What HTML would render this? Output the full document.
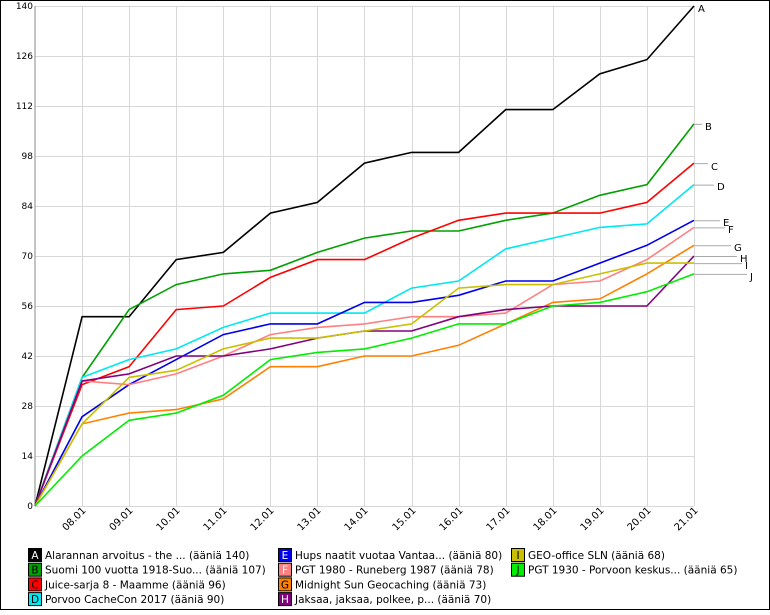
<!DOCTYPE html><html><head><style>body{margin:0;background:#fff}</style></head><body>
<svg width="770" height="610" xmlns="http://www.w3.org/2000/svg" font-family="DejaVu Sans, Liberation Sans, sans-serif">
<rect x="0.5" y="0.5" width="769" height="609" fill="#fff" stroke="#000"/>
<g id="grid" stroke="#d8d8d8" stroke-width="1"></g>
<g id="ylab" font-size="9" text-anchor="end"></g>
<g id="xlab" font-size="10"></g>
<g id="series" fill="none" stroke-width="1.6"></g>
<g id="tags" font-size="10"></g>
<g id="leg" font-size="10.5"></g>
<script>
var ns="http://www.w3.org/2000/svg";
function el(p,t,a,txt){var e=document.createElementNS(ns,t);for(var k in a)e.setAttribute(k,a[k]);if(txt!=null)e.textContent=txt;document.getElementById(p).appendChild(e);return e;}
function X(i){return 35+47.07*i}function Y(v){return 506-v*500/140}
for(var v=0;v<=140;v+=14){el("grid","line",{x1:35,x2:694,y1:Y(v)+.5,y2:Y(v)+.5});el("ylab","text",{x:33,y:Y(v)+3},v);}
var d=["08","09","10","11","12","13","14","15","16","17","18","19","20","21"];
for(var i=1;i<=14;i++){var x=Math.round(X(i))+.5;el("grid","line",{x1:x,x2:x,y1:6,y2:506});el("xlab","text",{x:0,y:0,"text-anchor":"end",transform:"translate("+(x+4)+",511) rotate(-45)"},d[i-1]+".01");}
el("grid","line",{x1:35,x2:35,y1:6,y2:506,stroke:"#888"});
var S=[
["A","#000000",[0,53,53,69,71,82,85,96,99,99,111,111,121,125,140],"Alarannan arvoitus - the ... (ääniä 140)","#fff"],
["B","#00a000",[0,36,55,62,65,66,71,75,77,77,80,82,87,90,107],"Suomi 100 vuotta 1918-Suo... (ääniä 107)","#000"],
["C","#ff0000",[0,34,39,55,56,64,69,69,75,80,82,82,82,85,96],"Juice-sarja 8 - Maamme (ääniä 96)","#000"],
["D","#00e8f0",[0,36,41,44,50,54,54,54,61,63,72,75,78,79,90],"Porvoo CacheCon 2017  (ääniä 90)","#000"],
["E","#0000ee",[0,25,34,41,48,51,51,57,57,59,63,63,68,73,80],"Hups naatit vuotaa Vantaa... (ääniä 80)","#fff"],
["F","#ff8080",[0,35,34,37,42,48,50,51,53,53,54,62,63,69,78],"PGT 1980 - Runeberg 1987 (ääniä 78)","#fff"],
["G","#ff8000",[0,23,26,27,30,39,39,42,42,45,51,57,58,65,73],"Midnight Sun Geocaching (ääniä 73)","#000"],
["H","#800080",[0,35,37,42,42,44,47,49,49,53,55,56,56,56,70],"Jaksaa, jaksaa, polkee, p... (ääniä 70)","#fff"],
["I","#c8c000",[0,23,36,38,44,47,47,49,51,61,62,62,65,68,68],"GEO-office SLN (ääniä 68)","#000"],
["J","#00ee00",[0,14,24,26,31,41,43,44,47,51,51,56,57,60,65],"PGT 1930 - Porvoon keskus... (ääniä 65)","#000"]];
var tg={A:[698,8],B:[705,126],C:[711,166],D:[717,186],E:[723,222],F:[728,229],G:[734,247],H:[740,258],I:[745,265],J:[750,276]};
S.forEach(function(s,k){var p=s[2].map(function(v,i){return X(i).toFixed(1)+","+Y(v).toFixed(1)}).join(" ");
el("series","polyline",{points:p,stroke:s[1]});
var yy=Y(s[2][14]),t=tg[s[0]];
if(s[0]!="A")el("tags","line",{x1:694,x2:t[0]-3,y1:yy+.5,y2:yy+.5,stroke:"#aaa"});
el("tags","text",{x:t[0],y:t[1]+4},s[0]);
var col=Math.floor(k/4),row=k%4;if(k>=8){col=2;row=k-8;}
var lx=[28,278,511][col],ly=548+row*14.7;
el("leg","rect",{x:lx+.5,y:ly+.5,width:13,height:13,fill:s[1],stroke:"#000"});
el("leg","text",{x:lx+7,y:ly+11,"text-anchor":"middle",fill:s[4]},s[0]);
el("leg","text",{x:lx+17,y:ly+11},s[3]);});
</script>
</svg></body></html>
